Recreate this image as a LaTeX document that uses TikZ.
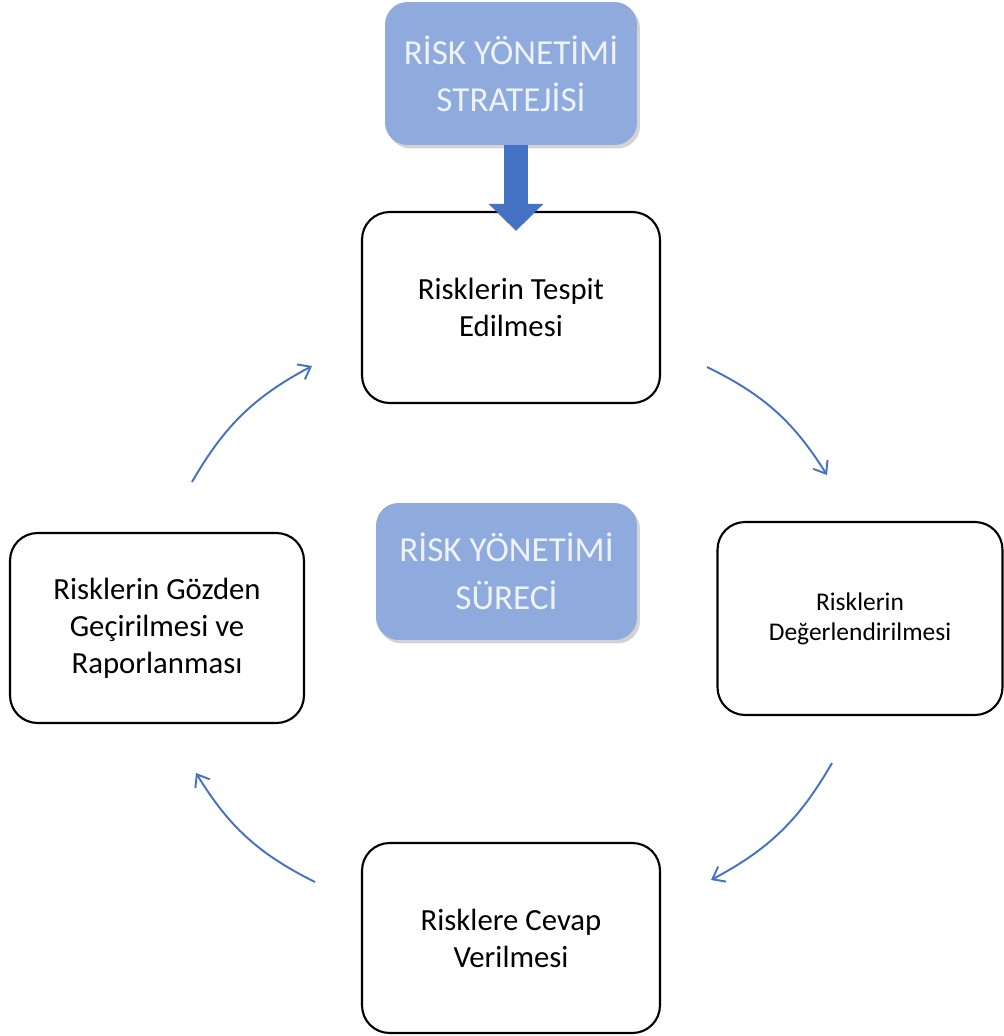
\documentclass[tikz,border=0pt]{standalone}
\usepackage{fontspec}
\setmainfont{Carlito}
\usepackage{tikz}
\usetikzlibrary{arrows.meta,positioning,calc,shadows}
\definecolor{bleuclair}{RGB}{143,170,220}
\definecolor{bleufonce}{RGB}{68,114,196}
\definecolor{textebleu}{RGB}{238,242,250}
\begin{document}
\begin{tikzpicture}[x=0.02cm,y=-0.02cm]
\tikzstyle{boite}=[draw=black,line width=1.2pt,fill=white,rounded corners=0.55cm,align=center,inner sep=0pt,font=\fontsize{17.5}{21}\selectfont]
\tikzstyle{titre}=[fill=bleuclair,rounded corners=0.45cm,align=center,inner sep=0pt,text=textebleu,font=\fontsize{20}{27}\selectfont,drop shadow={shadow xshift=0.06cm,shadow yshift=-0.07cm,opacity=0.35}]
\tikzstyle{fleche}=[-{Straight Barb[length=0.22cm,width=0.34cm]},bleufonce,line width=1.1pt]
\tikzstyle{grossefleche}=[-{Triangle[length=0.54cm,width=1.06cm]},bleufonce,line width=0.5cm]
\useasboundingbox (0,0) rectangle (1004,1036);
% titres bleus
\node[titre,minimum width=5.04cm,minimum height=2.86cm] (Strategie) at (511,73.5) {RİSK YÖNETİMİ\\STRATEJİSİ};
\node[titre,minimum width=5.22cm,minimum height=2.74cm] (Surec) at (506.5,571.5) {RİSK YÖNETİMİ\\SÜRECİ};
% etapes
\node[boite,minimum width=5.96cm,minimum height=3.82cm] (Tespit) at (511,307.5) {Risklerin Tespit\\Edilmesi};
\node[boite,minimum width=5.7cm,minimum height=3.86cm,font=\fontsize{14.5}{17}\selectfont] (Deger) at (860,618.5) {Risklerin\\Değerlendirilmesi};
\node[boite,minimum width=5.96cm,minimum height=3.8cm] (Cevap) at (511,938) {Risklere Cevap\\Verilmesi};
\node[boite,minimum width=5.88cm,minimum height=3.8cm] (Gozden) at (157,628) {Risklerin Gözden\\Geçirilmesi ve\\Raporlanması};
% extremites des fleches
\coordinate (DepA) at (707,367);
\coordinate (ArrA) at (827,475);
\coordinate (DepB) at (832,763);
\coordinate (ArrB) at (711,880);
\coordinate (DepC) at (315,882);
\coordinate (ArrC) at (196,773);
\coordinate (DepD) at (192,482);
\coordinate (ArrD) at (312,366);
\draw[grossefleche] ($(Strategie.south)+(5,0)$) -- ($(Tespit.north)+(5,20)$);
\draw[fleche] (DepA) to[bend left=16] (ArrA);
\draw[fleche] (DepB) to[bend left=16] (ArrB);
\draw[fleche] (DepC) to[bend left=16] (ArrC);
\draw[fleche] (DepD) to[bend left=16] (ArrD);
\end{tikzpicture}
\end{document}
